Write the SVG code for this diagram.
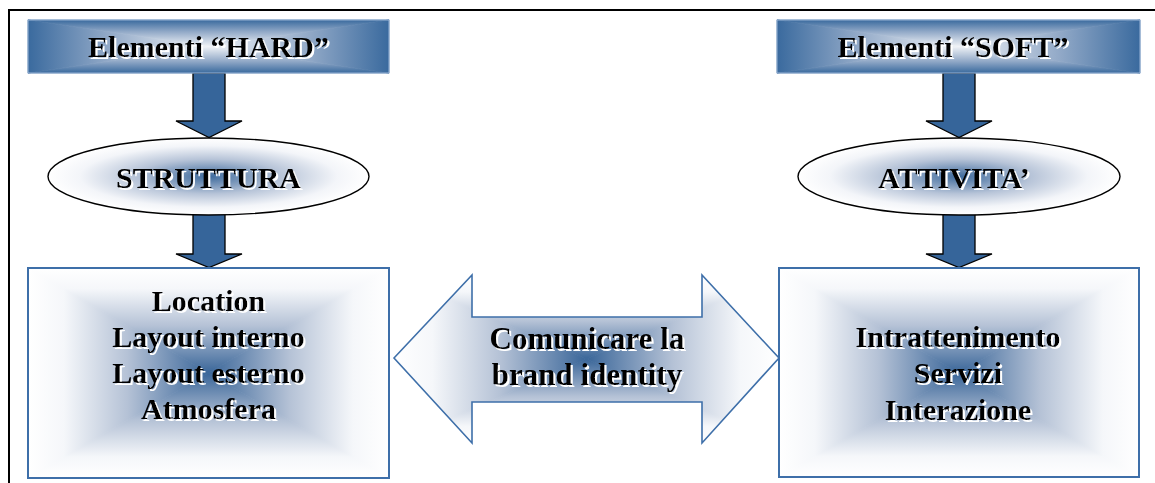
<svg xmlns="http://www.w3.org/2000/svg" width="1155" height="483" viewBox="0 0 1155 483">
  <style>
    .t { font-family: "Liberation Serif", "Times New Roman", serif; font-weight: bold; font-size: 30px; fill: #000; text-anchor: middle; filter: url(#sh); }
    .tb { font-size: 31px; }
    .frame { stroke: #000; stroke-width: 2; fill: none; }
    .arr { fill: #36659a; stroke: #000; stroke-width: 1.3; stroke-linejoin: miter; }
    .ell { stroke: #000; stroke-width: 1.4; fill: url(#ellG); }
    .bigbox { fill: none; stroke: #3e6fa9; stroke-width: 2; }
    .topbox { fill: none; stroke: #9bb5d6; stroke-width: 1; }
  </style>
  <defs>
    <filter id="sh" x="-5%" y="-30%" width="110%" height="160%">
      <feFlood flood-color="#ffffff"/>
      <feComposite in2="SourceAlpha" operator="in"/>
      <feOffset dx="1.6" dy="1.6" result="s"/>
      <feMerge><feMergeNode in="s"/><feMergeNode in="SourceGraphic"/></feMerge>
    </filter>
    <linearGradient id="inT" x1="0" y1="0" x2="0" y2="1">
      <stop offset="0" stop-color="#ffffff"/>
      <stop offset="0.2" stop-color="#f5f7fa"/>
      <stop offset="0.55" stop-color="#b5c2d6"/>
      <stop offset="1" stop-color="#3a6699"/>
    </linearGradient>
    <linearGradient id="inB" href="#inT" x1="0" y1="1" x2="0" y2="0"/>
    <linearGradient id="inL" href="#inT" x1="0" y1="0" x2="1" y2="0"/>
    <linearGradient id="inR" href="#inT" x1="1" y1="0" x2="0" y2="0"/>
    <linearGradient id="outT" x1="0" y1="0" x2="0" y2="1">
      <stop offset="0" stop-color="#3a6a9e"/>
      <stop offset="0.45" stop-color="#93aac8"/>
      <stop offset="1" stop-color="#f0f3f7"/>
    </linearGradient>
    <linearGradient id="outB" href="#outT" x1="0" y1="1" x2="0" y2="0"/>
    <linearGradient id="outL" href="#outT" x1="0" y1="0" x2="1" y2="0"/>
    <linearGradient id="outR" href="#outT" x1="1" y1="0" x2="0" y2="0"/>
    <radialGradient id="ellG" cx="0.5" cy="0.5" r="0.5">
      <stop offset="0" stop-color="#3f6b9d"/>
      <stop offset="0.45" stop-color="#b7c4d8"/>
      <stop offset="0.8" stop-color="#f3f5f9"/>
      <stop offset="1" stop-color="#ffffff"/>
    </radialGradient>
    <clipPath id="dblClip">
      <polygon points="394,358 472,275 472,317 702,317 702,275 779,358 702,443 702,402 472,402 472,443"/>
    </clipPath>
  </defs>

  <rect width="1155" height="483" fill="#ffffff"/>

  <path class="frame" d="M9,483 L9,10 L1155,10"/>

  <g id="connectors">
    <path class="arr" d="M193,73 L225,73 L225,121 L242,121 L209,137.5 L176,121 L193,121 Z"/>
    <path class="arr" d="M193,210 L225,210 L225,254 L242,254 L209,267.5 L176,254 L193,254 Z"/>
    <path class="arr" d="M943,73 L975,73 L975,121 L992,121 L959,137.5 L926,121 L943,121 Z"/>
    <path class="arr" d="M943,210 L975,210 L975,254 L992,254 L959,267.5 L926,254 L943,254 Z"/>
  </g>

  <g id="hard">
    <polygon points="28,20 389,20 208.5,46.5" fill="url(#outT)" stroke="url(#outT)" stroke-width="0.8"/>
    <polygon points="28,73 389,73 208.5,46.5" fill="url(#outB)" stroke="url(#outB)" stroke-width="0.8"/>
    <polygon points="28,20 28,73 208.5,46.5" fill="url(#outL)" stroke="url(#outL)" stroke-width="0.8"/>
    <polygon points="389,20 389,73 208.5,46.5" fill="url(#outR)" stroke="url(#outR)" stroke-width="0.8"/>
    <rect class="topbox" x="28" y="20" width="361" height="53"/>
    <text class="t" x="208.5" y="57">Elementi “HARD”</text>
  </g>

  <g id="soft">
    <polygon points="777,20 1140,20 958.5,46.5" fill="url(#outT)" stroke="url(#outT)" stroke-width="0.8"/>
    <polygon points="777,73 1140,73 958.5,46.5" fill="url(#outB)" stroke="url(#outB)" stroke-width="0.8"/>
    <polygon points="777,20 777,73 958.5,46.5" fill="url(#outL)" stroke="url(#outL)" stroke-width="0.8"/>
    <polygon points="1140,20 1140,73 958.5,46.5" fill="url(#outR)" stroke="url(#outR)" stroke-width="0.8"/>
    <rect class="topbox" x="777" y="20" width="363" height="53"/>
    <text class="t" x="953" y="57">Elementi “SOFT”</text>
  </g>

  <g id="struttura">
    <ellipse class="ell" cx="208.5" cy="176.5" rx="160.5" ry="38.5"/>
    <text class="t" x="208.5" y="188">STRUTTURA</text>
  </g>

  <g id="attivita">
    <ellipse class="ell" cx="959" cy="176.5" rx="161" ry="38.5"/>
    <text class="t" x="954" y="188">ATTIVITA’</text>
  </g>

  <g id="hardList">
    <polygon points="28,268 389,268 208.5,373" fill="url(#inT)" stroke="url(#inT)" stroke-width="0.8"/>
    <polygon points="28,478 389,478 208.5,373" fill="url(#inB)" stroke="url(#inB)" stroke-width="0.8"/>
    <polygon points="28,268 28,478 208.5,373" fill="url(#inL)" stroke="url(#inL)" stroke-width="0.8"/>
    <polygon points="389,268 389,478 208.5,373" fill="url(#inR)" stroke="url(#inR)" stroke-width="0.8"/>
    <rect class="bigbox" x="28" y="268" width="361" height="210"/>
    <text class="t" x="208.5" y="310.5">Location</text>
    <text class="t" x="208.5" y="347">Layout interno</text>
    <text class="t" x="208.5" y="383">Layout esterno</text>
    <text class="t" x="208.5" y="419">Atmosfera</text>
  </g>

  <g id="softList">
    <polygon points="779,268 1139,268 959,373" fill="url(#inT)" stroke="url(#inT)" stroke-width="0.8"/>
    <polygon points="779,477 1139,477 959,373" fill="url(#inB)" stroke="url(#inB)" stroke-width="0.8"/>
    <polygon points="779,268 779,477 959,373" fill="url(#inL)" stroke="url(#inL)" stroke-width="0.8"/>
    <polygon points="1139,268 1139,477 959,373" fill="url(#inR)" stroke="url(#inR)" stroke-width="0.8"/>
    <rect class="bigbox" x="779" y="268" width="360" height="209"/>
    <text class="t" x="958" y="347">Intrattenimento</text>
    <text class="t" x="958" y="383">Servizi</text>
    <text class="t" x="958" y="420">Interazione</text>
  </g>

  <g id="brand">
    <g clip-path="url(#dblClip)">
      <polygon points="394,275 779,275 586.5,359" fill="url(#inT)" stroke="url(#inT)" stroke-width="0.8"/>
      <polygon points="394,443 779,443 586.5,359" fill="url(#inB)" stroke="url(#inB)" stroke-width="0.8"/>
      <polygon points="394,275 394,443 586.5,359" fill="url(#inL)" stroke="url(#inL)" stroke-width="0.8"/>
      <polygon points="779,275 779,443 586.5,359" fill="url(#inR)" stroke="url(#inR)" stroke-width="0.8"/>
    </g>
    <polygon points="394,358 472,275 472,317 702,317 702,275 779,358 702,443 702,402 472,402 472,443" fill="none" stroke="#3e6fa9" stroke-width="1.6" stroke-linejoin="miter"/>
    <text class="t tb" x="587" y="349">Comunicare la</text>
    <text class="t tb" x="587" y="384.5">brand identity</text>
  </g>
</svg>
